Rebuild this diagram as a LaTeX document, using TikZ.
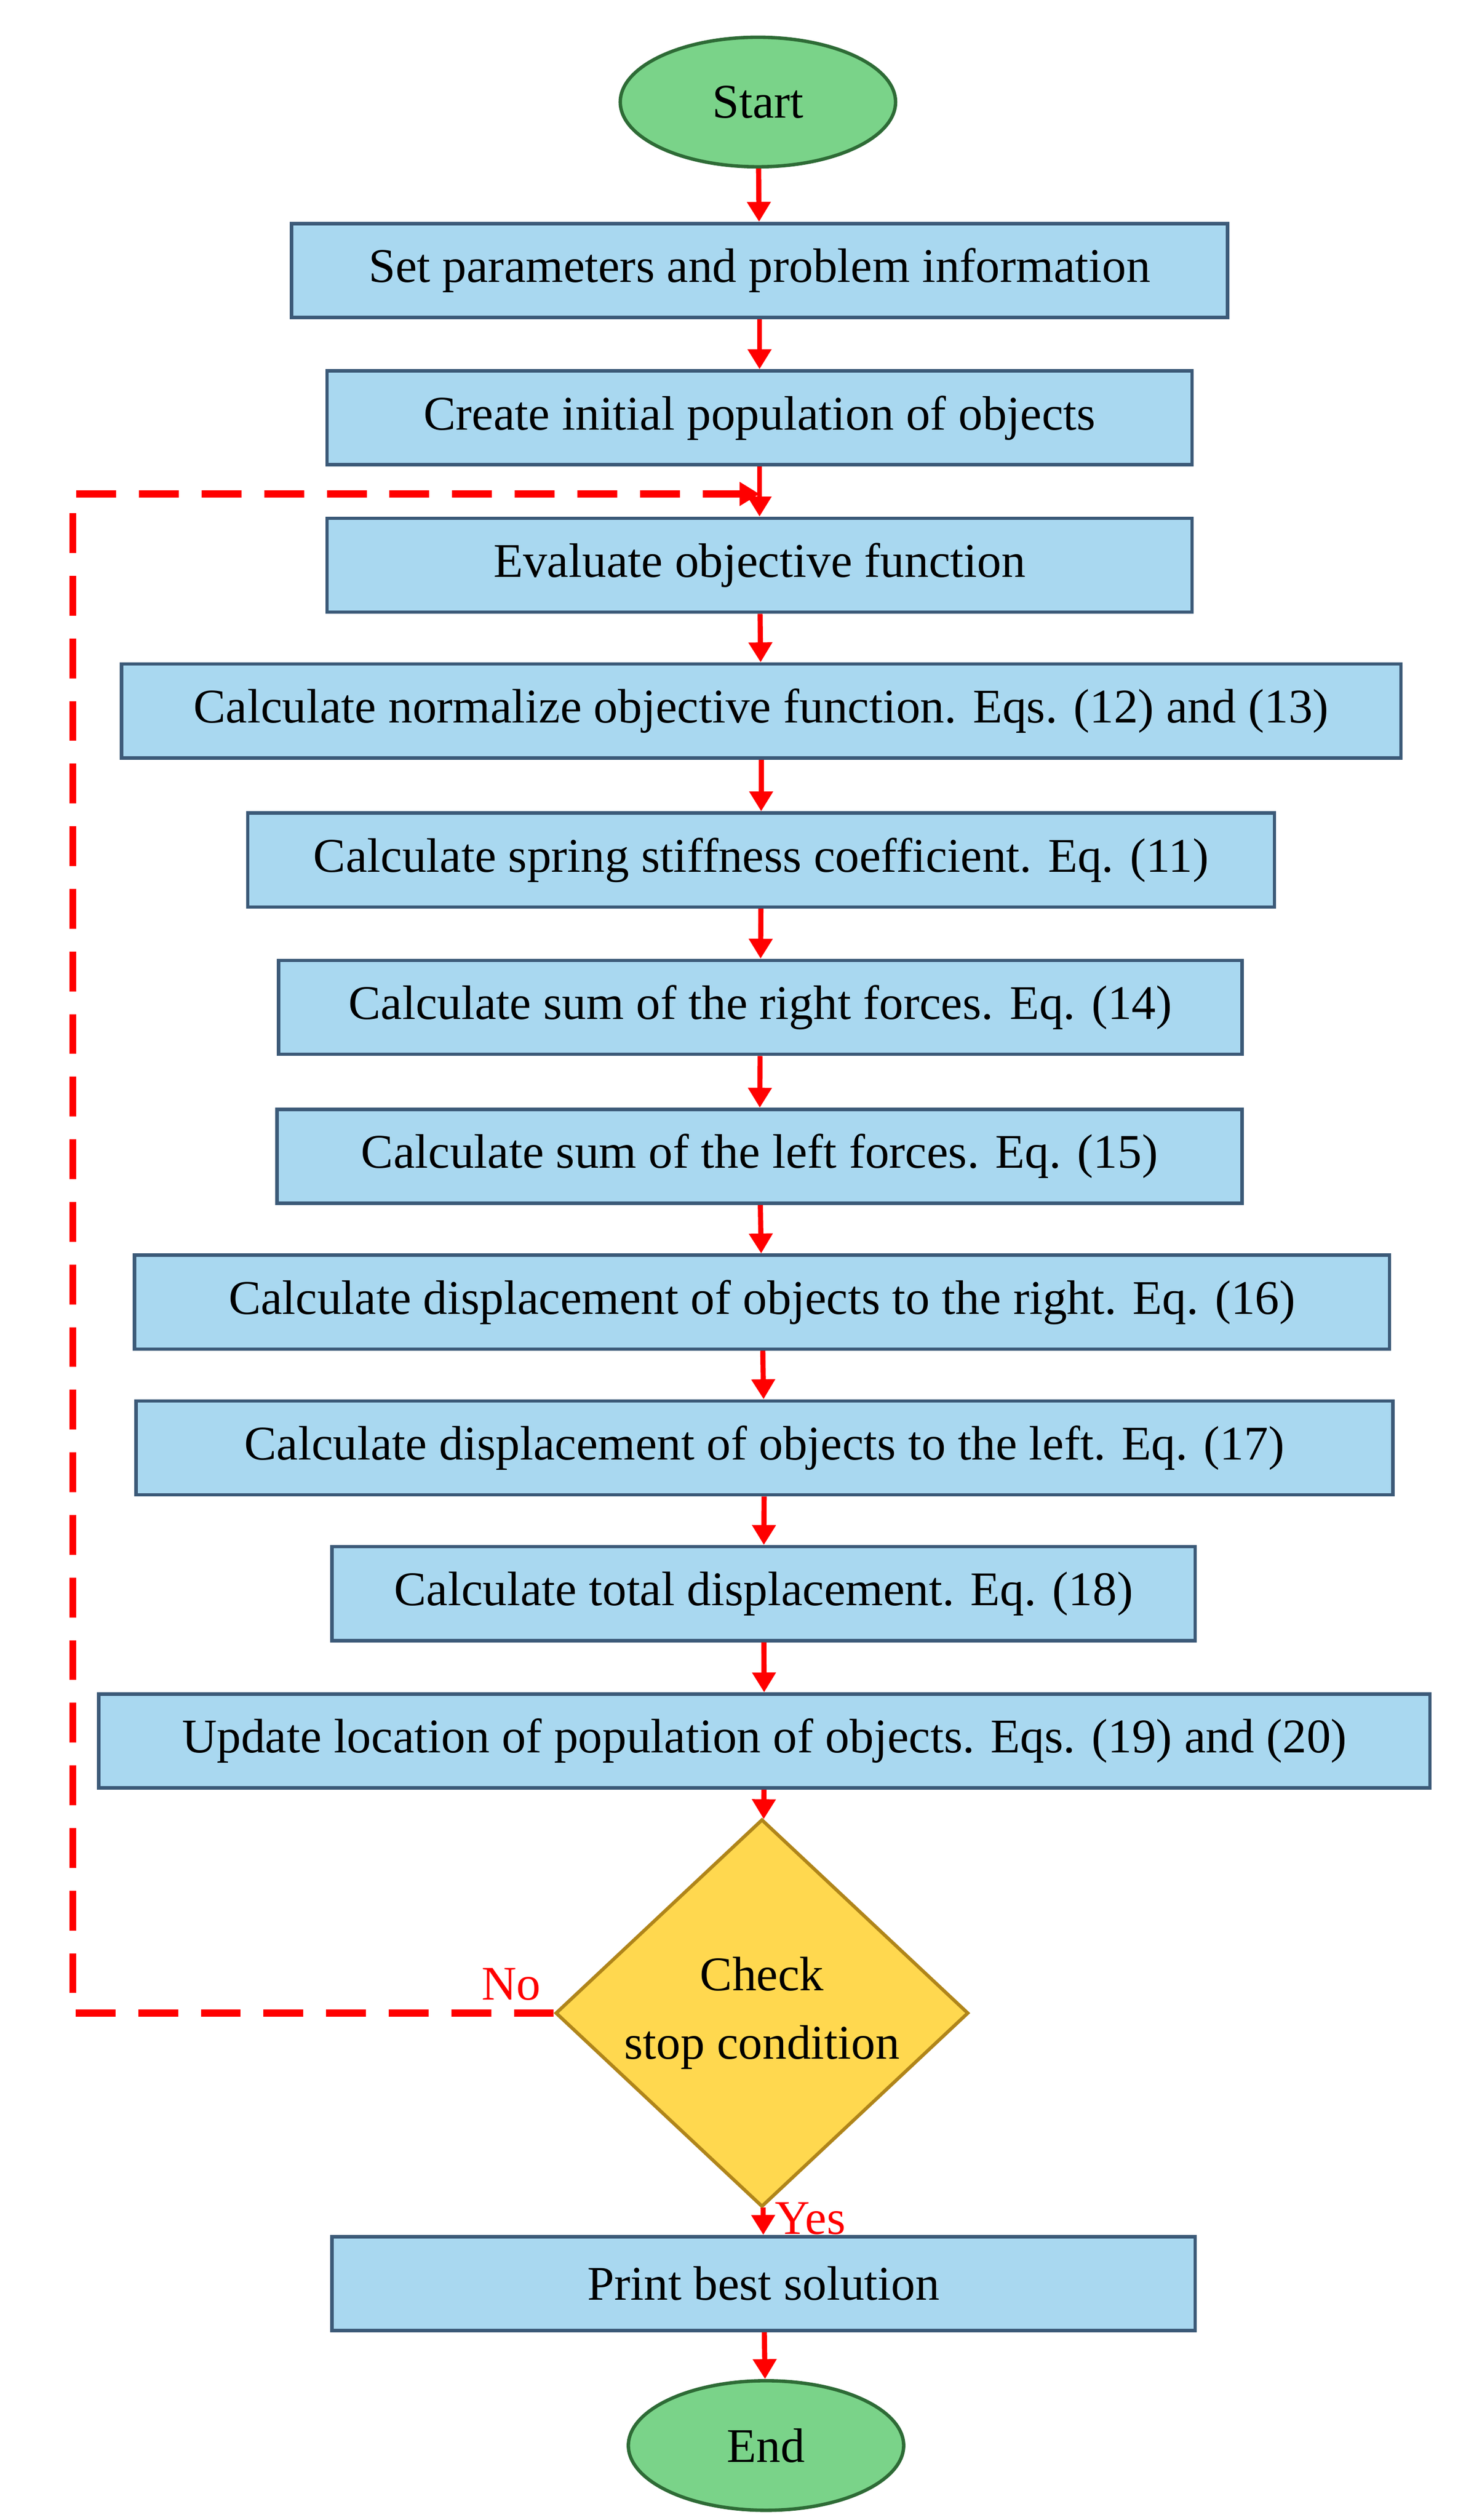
\documentclass[tikz,border=0pt]{standalone}
\usepackage{fontspec}
\setmainfont{Liberation Serif}
\usetikzlibrary{shapes.geometric,arrows.meta}
\definecolor{boxblue}{HTML}{A9D8F0}
\definecolor{boxline}{HTML}{3C5A78}
\definecolor{termgreen}{HTML}{7AD389}
\definecolor{termline}{HTML}{2E6B36}
\definecolor{decyellow}{HTML}{FFD84F}
\definecolor{decline}{HTML}{B0851A}
\tikzset{
  procbox/.style={draw=boxline, line width=1.2pt, fill=boxblue, minimum height=1.16cm,
    font=\fontsize{17}{20}\selectfont},
  term/.style={ellipse, draw=termline, line width=1.2pt, fill=termgreen,
    minimum width=3.4cm, minimum height=1.6cm, font=\fontsize{17}{20}\selectfont},
  flow/.style={-{Triangle[length=7pt,width=8pt]}, red, line width=1.8pt},
}
\begin{document}
\begin{tikzpicture}
    \useasboundingbox (0,0) rectangle (18.2,-31.12);

    % Terminals
    \node[term] (start) at (9.36,-1.26) {Start};
    \node[term] (end) at (9.46,-30.2) {End};

    % Steps
    \node[procbox, minimum width=11.56cm] (setp) at (9.38,-3.34) {Set parameters and problem information};
    \node[procbox, minimum width=10.68cm] (init) at (9.38,-5.16) {Create initial population of objects};
    \node[procbox, minimum width=10.68cm] (eval) at (9.38,-6.98) {Evaluate objective function};
    \node[procbox, minimum width=15.8cm] (norm) at (9.4,-8.78) {Calculate normalize objective function. Eqs. (12) and (13)};
    \node[procbox, minimum width=12.68cm] (stiff) at (9.4,-10.62) {Calculate spring stiffness coefficient. Eq. (11)};
    \node[procbox, minimum width=11.9cm] (right) at (9.39,-12.44) {Calculate sum of the right forces. Eq. (14)};
    \node[procbox, minimum width=11.92cm] (left) at (9.38,-14.28) {Calculate sum of the left forces. Eq. (15)};
    \node[procbox, minimum width=15.5cm] (dright) at (9.41,-16.08) {Calculate displacement of objects to the right. Eq. (16)};
    \node[procbox, minimum width=15.52cm] (dleft) at (9.44,-17.88) {Calculate displacement of objects to the left. Eq. (17)};
    \node[procbox, minimum width=10.66cm] (total) at (9.43,-19.68) {Calculate total displacement. Eq. (18)};
    \node[procbox, minimum width=16.44cm] (update) at (9.44,-21.5) {Update location of population of objects. Eqs. (19) and (20)};
    \node[diamond, draw=decline, line width=1.2pt, fill=decyellow, minimum width=5.1cm,
      minimum height=4.14cm, inner sep=0pt, align=center, font=\fontsize{17}{24}\selectfont]
      (check) at (9.41,-24.86) {Check\\stop condition};
    \node[procbox, minimum width=10.66cm] (print) at (9.43,-28.2) {Print best solution};

    % Arrows
    \draw[flow] (start) -- (setp);
    \draw[flow] (setp) -- (init);
    \draw[flow] (init) -- (eval);
    \draw[flow] (eval) -- (norm);
    \draw[flow] (norm) -- (stiff);
    \draw[flow] (stiff) -- (right);
    \draw[flow] (right) -- (left);
    \draw[flow] (left) -- (dright);
    \draw[flow] (dright) -- (dleft);
    \draw[flow] (dleft) -- (total);
    \draw[flow] (total) -- (update);
    \draw[flow] (update) -- (check);
    \draw[flow] (check) -- node[right, font=\fontsize{17}{20}\selectfont, pos=0.4] {Yes} (print);
    \draw[flow] (print) -- (end);

    % Loop back
    \coordinate (back) at (0.9,-6.1);
    \draw[flow, dashed, dash pattern=on 14pt off 8pt, line width=2.4pt]
      (check.west) node[above left, font=\fontsize{17}{20}\selectfont] {No}
      -| (back) -- (back -| init.south);
\end{tikzpicture}
\end{document}
